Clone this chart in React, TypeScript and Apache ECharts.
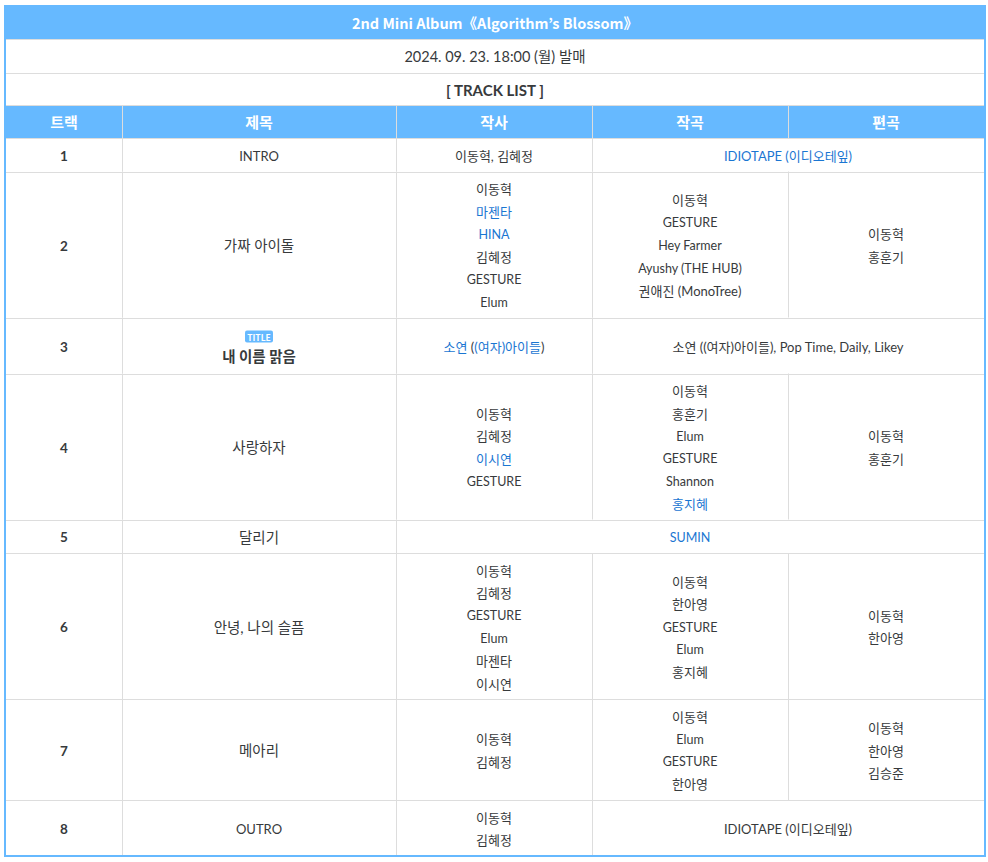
import React, { useEffect, useRef } from 'react';
import * as echarts from 'echarts';

// ---------- data ----------
const albumTitle = '2nd Mini Album《Algorithm’s Blossom》';
const releaseInfo = '2024. 09. 23. 18:00 (월) 발매';
const sectionLabel = '[ TRACK LIST ]';
const columnHeaders = ['트랙', '제목', '작사', '작곡', '편곡'];
const trackNumbers = ['1', '2', '3', '4', '5', '6', '7', '8'];
const trackTitles = ['INTRO', '가짜 아이돌', '내 이름 맑음', '사랑하자', '달리기', '안녕, 나의 슬픔', '메아리', 'OUTRO'];
const titleTrackFlags = [false, false, true, false, false, false, false, false];
const titleBadge = 'TITLE';
// [name] marks a linked (blue) name; null = merged into the cell on its left
const lyricists: (string[] | null)[] = [
  ['이동혁, 김혜정'],
  ['이동혁', '[마젠타]', '[HINA]', '김혜정', 'GESTURE', 'Elum'],
  ['[소연] ([(여자)아이들])'],
  ['이동혁', '김혜정', '[이시연]', 'GESTURE'],
  ['[SUMIN]'],
  ['이동혁', '김혜정', 'GESTURE', 'Elum', '마젠타', '이시연'],
  ['이동혁', '김혜정'],
  ['이동혁', '김혜정'],
];
const composers: (string[] | null)[] = [
  ['[IDIOTAPE (이디오테잎)]'],
  ['이동혁', 'GESTURE', 'Hey Farmer', 'Ayushy (THE HUB)', '권애진 (MonoTree)'],
  ['소연 ((여자)아이들), Pop Time, Daily, Likey'],
  ['이동혁', '홍훈기', 'Elum', 'GESTURE', 'Shannon', '[홍지혜]'],
  null,
  ['이동혁', '한아영', 'GESTURE', 'Elum', '홍지혜'],
  ['이동혁', 'Elum', 'GESTURE', '한아영'],
  ['IDIOTAPE (이디오테잎)'],
];
const arrangers: (string[] | null)[] = [
  null,
  ['이동혁', '홍훈기'],
  null,
  ['이동혁', '홍훈기'],
  null,
  ['이동혁', '한아영'],
  ['이동혁', '한아영', '김승준'],
  null,
];

// ---------- style / layout ----------
const BLUE = '#66b9ff';
const LINK = '#1a76d2';
const TEXT = '#373a3c';
const GRID = '#dddddd';
const FONT = 'Lato, "Noto Sans CJK KR", sans-serif';
const FONT_TITLE = '"Noto Sans CJK KR", "Noto Sans", sans-serif';
const colX = [6, 122, 396, 592, 788, 984];
const LINE = 22.6;
const BODY_DY = 1;

const toRich = (s: string) => s.replace(/\[([^\]]+)\]/g, '{l|$1}');
const isLatin = (s: string) => /^[\x00-\x7f\[\]]+$/.test(s);

function buildGraphic() {
  const els: any[] = [];
  const left = 6, right = 984;
  const cx = (a: number, b: number) => (colX[a] + colX[b]) / 2;
  const text = (x: number, y: number, s: string, opt: any = {}) => {
    const size = opt.size || 13;
    const family = opt.family || FONT;
    els.push({
      type: 'text', x, y, z: 10,
      style: {
        text: opt.rich ? toRich(s) : s, fill: opt.fill || TEXT, fontSize: size,
        fontWeight: opt.bold ? 'bold' : 'normal', fontFamily: family,
        align: 'center', verticalAlign: 'middle',
        textAlign: 'center', textVerticalAlign: 'middle',
        rich: opt.rich ? { l: { fill: LINK, color: LINK, fontSize: size, fontFamily: family } } : undefined,
      },
    });
  };
  const hline = (y: number) => els.push({ type: 'line', z: 5, shape: { x1: left, y1: Math.round(y) + 0.5, x2: right, y2: Math.round(y) + 0.5 }, style: { stroke: GRID, lineWidth: 1 } });
  const vline = (x: number, y1: number, y2: number) => els.push({ type: 'line', z: 5, shape: { x1: x + 0.5, y1, x2: x + 0.5, y2 }, style: { stroke: GRID, lineWidth: 1 } });

  // top rows
  els.push({ type: 'rect', shape: { x: left, y: 5, width: right - left, height: 34 }, style: { fill: BLUE } });
  text(495, 22, albumTitle, { fill: '#ffffff', bold: true, size: 14.5, family: FONT_TITLE });
  hline(39);
  text(495, 56, releaseInfo, { size: 14.5 });
  hline(73);
  text(495, 90, sectionLabel, { bold: true, size: 15 });
  hline(105);
  els.push({ type: 'rect', shape: { x: left, y: 105.5, width: right - left, height: 33 }, style: { fill: BLUE } });
  columnHeaders.forEach((h, i) => text(cx(i, i + 1), 122, h, { fill: '#ffffff', bold: true, size: 15 }));
  for (let i = 1; i < 5; i++) vline(colX[i], 106, 138);
  hline(138);

  // body rows
  let y = 138;
  trackNumbers.forEach((num, r) => {
    const cells = [lyricists[r], composers[r], arrangers[r]];
    const counts = cells.map((c) => (c ? c.length : 0));
    const n = Math.max(titleTrackFlags[r] ? 2 : 1, ...counts);
    const h = n * 22.5 + 11;
    const mid = y + h / 2 + BODY_DY;
    text(cx(0, 1), mid, num, { bold: true, size: 13.5 });
    if (titleTrackFlags[r]) {
      const bx = cx(1, 2);
      els.push({ type: 'rect', z: 8, shape: { x: bx - 14, y: mid - 16, width: 28, height: 12, r: 2 }, style: { fill: BLUE } });
      text(bx, mid - 10, titleBadge, { fill: '#ffffff', bold: true, size: 8.5, family: FONT_TITLE });
      text(bx, mid + 10, trackTitles[r], { bold: true, size: 14.5 });
    } else {
      const t = trackTitles[r];
      text(cx(1, 2), mid, t, { size: isLatin(t) ? 13 : 14.5 });
    }
    vline(colX[1], y, y + h);
    vline(colX[2], y, y + h);
    // credit cells (columns 2..4)
    for (let c = 0; c < 3; c++) {
      const lines = cells[c];
      if (!lines) continue;
      let span = 1;
      while (c + span < 3 && !cells[c + span]) span++;
      const a = c + 2, b = c + 2 + span;
      if (b < 5) vline(colX[b], y, y + h);
      lines.forEach((ln, i) =>
        text(cx(a, b), mid + (i - (lines.length - 1) / 2) * LINE, ln, { rich: true, size: isLatin(ln) ? 12.5 : 13 })
      );
    }
    y += h;
    if (r < trackNumbers.length - 1) hline(y);
  });

  // outer border
  els.push({ type: 'rect', z: 20, shape: { x: 5, y: 6, width: 980, height: 850 }, style: { fill: 'none', stroke: BLUE, lineWidth: 2 } });
  return els;
}

export default function App() {
  const ref = useRef<HTMLDivElement>(null);
  useEffect(() => {
    if (!ref.current) return;
    const chart = echarts.init(ref.current, undefined, { renderer: 'svg' });
    chart.setOption({ animation: false, backgroundColor: '#ffffff', graphic: { elements: buildGraphic() } });
    return () => chart.dispose();
  }, []);
  return <div ref={ref} style={{ position: 'fixed', left: 0, top: 0, width: 988, height: 862 }} />;
}
